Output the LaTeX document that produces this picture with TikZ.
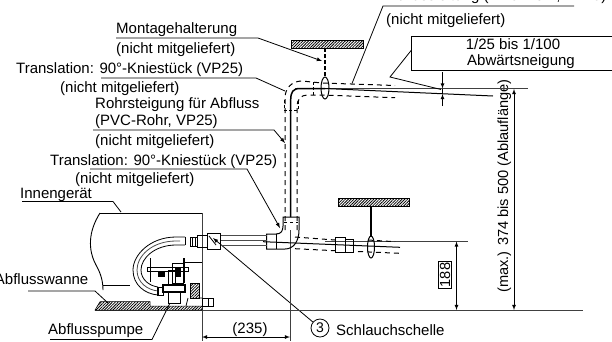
\documentclass[tikz,border=0pt]{standalone}
\usepackage{fontspec}
\setmainfont{Liberation Sans}
\usetikzlibrary{arrows,shapes,patterns.meta}
\tikzset{
  lbl/.style={anchor=base west, inner sep=0pt, font=\fontsize{15}{16}\selectfont},
  lblc/.style={anchor=base, inner sep=0pt, font=\fontsize{15}{16}\selectfont},
  leader/.style={line width=0.8pt},
  leaderarrow/.style={line width=0.8pt, -latex},
  dim/.style={line width=0.8pt, latex-latex},
  pipe/.style={line width=1.5pt},
  ref/.style={line width=0.9pt, black!75},
  thinline/.style={line width=0.8pt},
  dashline/.style={line width=1pt, dash pattern=on 5pt off 4pt},
  ceiling/.style={pattern={Lines[angle=45,distance=2pt,line width=0.8pt]}, draw=black, line width=0.5pt}
}
\begin{document}
\begin{tikzpicture}[x=1pt,y=-1pt]
\useasboundingbox (0,0) rectangle (612,341);

\node[lbl] (toppipe) at (386,0) {Abflussleitung (PVC-Rohr, VP25)};
\node[lbl] (toppipeb) at (386,24) {(nicht mitgeliefert)};
\node[lbl] (mount) at (116,33) {Montagehalterung};
\node[lbl] (mountb) at (116,53) {(nicht mitgeliefert)};
\node[lbl] (kneetop) at (16,73) {Translation: 90°-Kniestück (VP25)};
\node[lbl] (kneetopb) at (60,92) {(nicht mitgeliefert)};
\node[lbl] (riser) at (95,108) {Rohrsteigung für Abfluss};
\node[lbl] (riserb) at (95,125) {(PVC-Rohr, VP25)};
\node[lbl] (riserc) at (95,145) {(nicht mitgeliefert)};
\node[lbl] (kneelow) at (50,165) {Translation: 90°-Kniestück (VP25)};
\node[lbl] (kneelowb) at (75,183) {(nicht mitgeliefert)};
\node[lbl] (unit) at (20,198) {Innengerät};
\node[lbl, anchor=base east] (pan) at (88.5,284) {Abflusswanne};
\node[lbl] (pump) at (48,334) {Abflusspumpe};
\node[lblc] (dimlen) at (250,333) {(235)};
\node[lbl] (clamp) at (336,335) {Schlauchschelle};
\node[draw, circle, line width=0.8pt, minimum size=18pt, inner sep=0pt, font=\fontsize{14}{15}\selectfont] (clampno) at (320,328) {3};
\node[lblc] (slopea) at (513,49) {1/25 bis 1/100};
\node[lblc] (slopeb) at (521,65) {Abwärtsneigung};
\node[lblc, rotate=90, font=\fontsize{14.6}{16}\selectfont] (drainlen) at (508,186) {(max.) 374 bis 500 (Ablauflänge)};
\node[draw, rotate=90, line width=0.9pt, inner sep=1.5pt, font=\fontsize{14.6}{15}\selectfont] (height) at (445,275) {188};

\coordinate (mountend) at (322,61);
\coordinate (kneetopend) at (285,91);
\coordinate (riserend) at (285,143);
\coordinate (kneelowend) at (280,228);
\coordinate (unitend) at (121,212);
\coordinate (panend) at (108,303);
\coordinate (pumpend) at (170,303);
\coordinate (clampend) at (213,238);
\coordinate (toppipeend) at (352,83.5);

\draw[leader] (toppipeend) -- (383,6) -- (574,6);
\draw[leaderarrow] (116,38) -- (258,38) -- (mountend);
\draw[leader] (101,78) -- (256,78) -- (kneetopend);
\draw[leaderarrow] (93,130) -- (274,130) -- (riserend);
\draw[leaderarrow] (90,169) -- (247,169) -- (kneelowend);
\draw[leader] (22,201.5) -- (113,201.5) -- (unitend);
\draw[leader] (28,291) -- (95,291) -- (panend);
\draw[leader] (50,339.5) -- (152,339.5) -- (pumpend);
\draw[leaderarrow] (clampno) -- (clampend);

\draw[ref] (290.7,230) -- (290.7,341);
\draw[ref] (295,88.5) -- (528,88.5);
\draw[ref] (325,241.5) -- (468,241.5);
\draw[ref] (95,310.5) -- (583,310.5);
\draw[ref] (202,213) -- (202,341);
\draw[dim] (202,337) -- (290,337);
\draw[dim] (456.5,241.5) -- (456.5,310);
\draw[dim] (514,89) -- (514,310);

\draw[line width=0.9pt] (612,36) -- (411.5,36) -- (411.5,70) -- (612,70);
\draw[leader] (411.5,50) -- (390,77) -- (441,89.5);
\draw[leaderarrow] (442.5,72) -- (442.5,88.5);
\draw[leaderarrow] (442.5,106) -- (442.5,94);
\draw[thinline] (442.5,88.5) -- (442.5,94);

\draw[ceiling] (291,40) rectangle (363,48);
\draw[ceiling] (338,198.7) rectangle (409,206);
\draw[line width=1.3pt, dash pattern=on 4pt off 2pt] (325,48) -- (325,77);
\draw[line width=1.2pt] (371,206) -- (371,236);
\draw[line width=1pt] (325,88) ellipse (4pt and 11pt);
\draw[line width=1pt] (371,247) ellipse (3.5pt and 11pt);

\draw[pipe] (290.7,217) -- (290.7,100) .. controls (290.7,92) and (293,88.5) .. (300,88.5) -- (325,88.5);
\draw[line width=1pt] (325,88.5) -- (493,96);
\draw[dashline] (285,230) -- (285,98) .. controls (285,88) and (292,81) .. (302,81) -- (322,83) -- (395,85.5);
\draw[dashline] (297,230) -- (297,106) .. controls (297,100) and (301,95) .. (307,95) -- (322,95) -- (395,97.7);
\draw[line width=1pt, dash pattern=on 3pt off 2pt] (284,100) -- (284,110) -- (298,110) -- (298,100);
\draw[line width=1pt, dash pattern=on 3pt off 2pt] (313,82) -- (313,95);

\draw[line width=1pt] (263,241.7) -- (400,247.3);
\draw[dashline] (295,237) -- (335,240) (368,240) -- (395,241.7);
\draw[dashline] (295,248.7) -- (335,250.7) (358,251.5) -- (400,253.3);
\draw[line width=1pt] (335,237.3) rectangle (345,252.7);
\draw[line width=1pt] (345,239) rectangle (353,252.3);

\draw[line width=1pt] (283,217) -- (299,217) -- (299,230) .. controls (299,242) and (293,249) .. (285,249) -- (266.7,249) -- (266.7,234) -- (276,234) .. controls (281,234) and (283,231) .. (283,226) -- cycle;
\draw[thinline] (276,234) -- (276,249);
\draw[thinline, dashed] (284,222) -- (298,222);
\draw[thinline, black!70] (220,235.7) -- (267,235.7) (220,240.5) -- (267,240.5) (220,245.5) -- (267,245.5);

\draw[line width=1pt] (207,233) rectangle (220,249);
\draw[thinline] (209,236) -- (216,245);
\draw[thinline] (190,237) rectangle (197,246);
\draw[thinline] (192.5,237) -- (192.5,246) (195,237) -- (195,246);
\draw[thinline] (197,235) rectangle (207,247);
\draw[thinline] (185,237) -- (176,237) .. controls (150,237) and (133,255) .. (133,270) .. controls (133,285) and (145,294) .. (158,295);
\draw[thinline] (185,245) -- (176,245) .. controls (155,245) and (141,258) .. (141,270) .. controls (141,280) and (150,286) .. (158,287);
\draw[thinline, black!70] (180,241) -- (176,241) .. controls (152,241) and (137,256) .. (137,270) .. controls (137,283) and (148,290) .. (158,291);
\draw[thinline] (185,237) -- (185,245) (158,287) -- (158,295);

\draw[line width=0.9pt] (100,213) -- (202,213);
\draw[line width=0.9pt] (100,213) .. controls (88,232) and (88,250) .. (96,265) .. controls (100,272) and (103,280) .. (103,290);
\draw[thinline] (103,285) -- (130,285);
\draw[thinline] (185,262) -- (202,262);

\draw[thinline] (147,267) rectangle (188,271);
\draw[line width=1.2pt] (150.7,258) -- (150.7,282) (184,258) -- (184,283);
\fill (158,272) rectangle (165,277);
\draw[thinline] (172,263) rectangle (183,283);
\fill (175,268) rectangle (181,277);
\draw[thinline] (168,270) rectangle (175,285);
\draw[line width=1.5pt] (163,285) rectangle (185,292);
\draw[thinline] (168,292) rectangle (180,303);
\draw[thinline] (157,287) rectangle (163,295);
\draw[ceiling] (190,283) -- (199,283) -- (199,298) -- (190,298) -- cycle;
\draw[thinline] (188,298) -- (186,306) (199,298) -- (202,298);
\draw[thinline] (202,298) rectangle (213,306);
\draw[thinline] (208,298) -- (208,306);

\draw[ceiling] (95,310) -- (100,301.7) -- (150,301.7) -- (150,306) -- (202,306) -- (202,310) -- cycle;
\end{tikzpicture}
\end{document}
